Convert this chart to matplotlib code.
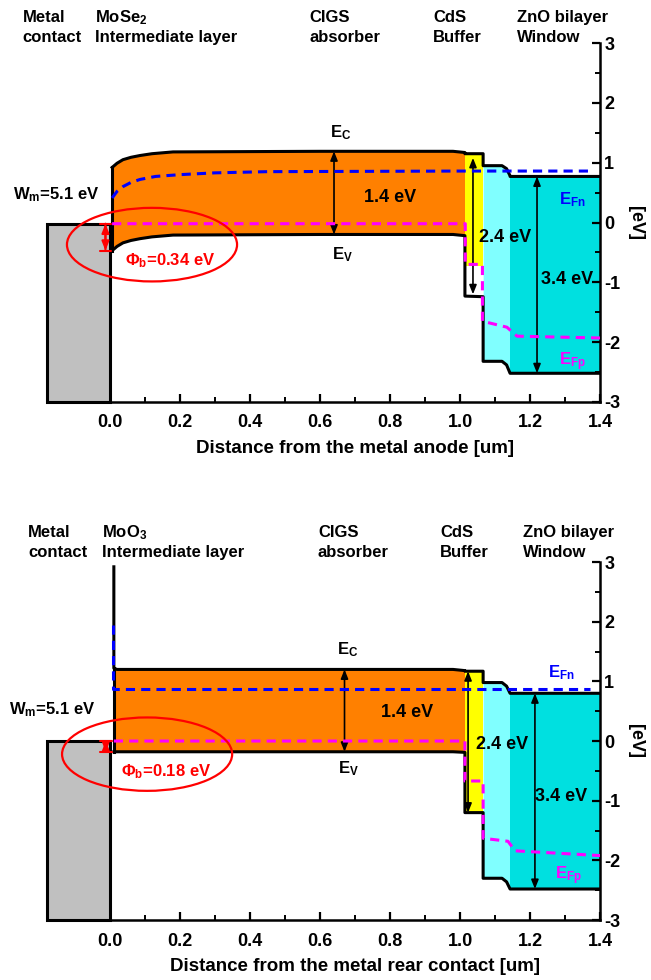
import matplotlib
matplotlib.use("Agg")
import matplotlib.pyplot as plt
from matplotlib.patches import Ellipse, Rectangle


# ---- top panel: MoSe2 intermediate layer ----
TOP_CIGS_X = [0.006, 0.02, 0.037, 0.06, 0.086, 0.12, 0.18, 0.6, 0.98, 1.014]
TOP_CIGS_EC = [0.92, 0.99, 1.05, 1.09, 1.12, 1.15, 1.18, 1.19, 1.19, 1.17]
TOP_CIGS_EV = [-0.47, -0.40, -0.34, -0.30, -0.27, -0.24, -0.21, -0.20, -0.20, -0.22]
TOP_CDS_X = [1.014, 1.066]
TOP_CDS_EC = [1.15, 1.15]
TOP_CDS_EV = [-1.23, -1.24]
TOP_ZNO1_X = [1.066, 1.12, 1.133, 1.143]
TOP_ZNO1_EC = [0.95, 0.95, 0.90, 0.78]
TOP_ZNO1_EV = [-2.32, -2.32, -2.38, -2.52]
TOP_ZNO2_X = [1.143, 1.4]
TOP_ZNO2_EC = [0.77, 0.77]
TOP_ZNO2_EV = [-2.52, -2.52]
TOP_EFN_X = [0.006, 0.02, 0.037, 0.06, 0.086, 0.13, 0.2, 0.3, 0.45, 1.0, 1.37]
TOP_EFN = [0.41, 0.52, 0.60, 0.67, 0.72, 0.77, 0.80, 0.83, 0.85, 0.86, 0.86]
TOP_EFP_X = [0.006, 1.015, 1.015, 1.064, 1.064, 1.134, 1.163, 1.4]
TOP_EFP = [-0.02, -0.02, -0.70, -0.70, -1.65, -1.75, -1.90, -1.93]
TOP_METAL_EF = -0.02

# ---- bottom panel: MoO3 intermediate layer ----
BOT_SPIKE_TOP = 2.92
BOT_CIGS_X = [0.011, 0.02, 0.05, 0.98, 1.014]
BOT_CIGS_EC = [1.22, 1.20, 1.20, 1.20, 1.18]
BOT_CIGS_EV = [-0.18, -0.18, -0.18, -0.18, -0.19]
BOT_CDS_X = [1.014, 1.066]
BOT_CDS_EC = [1.17, 1.17]
BOT_CDS_EV = [-1.20, -1.20]
BOT_ZNO1_X = [1.066, 1.12, 1.133, 1.143]
BOT_ZNO1_EC = [0.98, 0.98, 0.92, 0.80]
BOT_ZNO1_EV = [-2.30, -2.30, -2.36, -2.48]
BOT_ZNO2_X = [1.143, 1.4]
BOT_ZNO2_EC = [0.80, 0.80]
BOT_ZNO2_EV = [-2.48, -2.48]
BOT_EFN_X = [0.009, 0.009, 0.02, 1.37]
BOT_EFN = [1.95, 0.88, 0.88, 0.88]
BOT_EFP_X = [0.011, 1.014, 1.014, 1.066, 1.066, 1.137, 1.157, 1.4]
BOT_EFP = [0.0, 0.0, -0.67, -0.67, -1.63, -1.68, -1.84, -1.92]
BOT_METAL_EF = 0.0

# layer headings: (first line, second line)
TOP_HEADINGS = [("Metal", "contact"), ("MoSe$_2$", "Intermediate layer"),
                ("CIGS", "absorber"), ("CdS", "Buffer"), ("ZnO bilayer", "Window")]
BOT_HEADINGS = [("Metal", "contact"), ("MoO$_3$", "Intermediate layer"),
                ("CIGS", "absorber"), ("CdS", "Buffer"), ("ZnO bilayer", "Window")]
TOP_HEADING_X = [-0.249, -0.043, 0.571, 0.923, 1.163]
BOT_HEADING_X = [-0.234, -0.023, 0.594, 0.943, 1.18]

plt.rcParams["font.family"] = ["Liberation Sans", "DejaVu Sans"]
plt.rcParams["font.weight"] = "bold"
plt.rcParams["font.size"] = 12
plt.rcParams["axes.labelweight"] = "bold"
plt.rcParams["mathtext.fontset"] = "custom"
plt.rcParams["mathtext.rm"] = "Liberation Sans:bold"
plt.rcParams["mathtext.it"] = "Liberation Sans:bold"
plt.rcParams["mathtext.bf"] = "Liberation Sans:bold"

ORANGE = "#FF8000"
YELLOW = "#FFFF00"
LIGHT_CYAN = "#80FFFF"
CYAN = "#00E0E0"
GRAY = "#C0C0C0"


def double_arrow(ax, x, y0, y1, color="black", lw=1.2):
    ax.annotate("", xy=(x, y1), xytext=(x, y0),
                arrowprops=dict(arrowstyle="<|-|>,head_length=0.45,head_width=0.18",
                                color=color, lw=lw, shrinkA=0, shrinkB=0))


def headings(ax, xs, lines, baseline):
    for x, (first, second) in zip(xs, lines):
        ax.text(x, baseline, first, ha="left", va="baseline", clip_on=False)
        ax.text(x, baseline - 0.335, second, ha="left", va="baseline", clip_on=False)


def draw_panel(ax, layers, cds_floor, efn, efp, metal_ef, spike_top):
    cigs, cds, zno1, zno2 = layers

    ax.add_patch(Rectangle((-0.18, -3), 0.18, metal_ef + 3, facecolor=GRAY,
                           edgecolor="black", lw=2.2, clip_on=False, zorder=2))

    ax.fill_between(cigs[0], cigs[2], cigs[1], color=ORANGE, lw=0, zorder=1)
    floor = cds[2] if cds_floor is None else [cds_floor] * len(cds[0])
    ax.fill_between(cds[0], floor, cds[1], color=YELLOW, lw=0, zorder=1)
    ax.fill_between(zno1[0], zno1[2], zno1[1], color=LIGHT_CYAN, lw=0, zorder=1)
    ax.fill_between(zno2[0], zno2[2], zno2[1], color=CYAN, lw=0, zorder=1)

    ec_x, ec_y, ev_x, ev_y = [], [], [], []
    for lx, lec, lev in layers:
        ec_x += lx
        ec_y += lec
        ev_x += lx
        ev_y += lev
    start = ec_y[0] if spike_top is None else spike_top
    ax.plot([ec_x[0]] + ec_x, [start] + ec_y, color="black", lw=2.2, zorder=3,
            solid_joinstyle="round")
    ax.plot(ev_x, ev_y, color="black", lw=2.2, zorder=3, solid_joinstyle="round")
    ax.plot([ev_x[0], ev_x[0]], [ev_y[0], ec_y[0]], color="black", lw=2.2, zorder=3)

    ax.plot(efn[0], efn[1], color="#0000FF", lw=2.2, ls=(0, (3, 2)), zorder=4)
    ax.plot(efp[0], efp[1], color="#FF00FF", lw=2.2, ls=(0, (3, 2)), zorder=4)

    ax.set_xlim(-0.18, 1.4)
    ax.set_ylim(-3, 3)
    ax.spines["left"].set_visible(False)
    ax.spines["top"].set_visible(False)
    for side in ("bottom", "right"):
        ax.spines[side].set_linewidth(1.8)
    ax.yaxis.tick_right()
    ax.set_xticks([0.0, 0.2, 0.4, 0.6, 0.8, 1.0, 1.2, 1.4])
    ax.set_xticks([0.1, 0.3, 0.5, 0.7, 0.9, 1.1, 1.3], minor=True)
    ax.set_yticks([-3, -2, -1, 0, 1, 2, 3])
    ax.set_yticks([-2.5, -1.5, -0.5, 0.5, 1.5, 2.5], minor=True)
    ax.set_yticklabels(["-3", "-2", "-1", "0", "1", "2", "3"])
    ax.tick_params(which="major", direction="in", length=6, width=1.6, labelsize=13)
    ax.tick_params(axis="x", which="major", pad=9)
    ax.tick_params(axis="y", which="major", pad=3)
    ax.tick_params(which="minor", direction="in", length=3.5, width=1.4)
    ax.text(1.065, 0.5, "[eV]", rotation=270, fontsize=13, ha="center", va="center",
            transform=ax.transAxes)


fig = plt.figure(figsize=(6.51, 9.80), dpi=100)
ax_top = fig.add_axes([0.0722, 0.5898, 0.8495, 0.3663])
ax_bot = fig.add_axes([0.0722, 0.0612, 0.8495, 0.3653])

draw_panel(ax_top,
           [(TOP_CIGS_X, TOP_CIGS_EC, TOP_CIGS_EV), (TOP_CDS_X, TOP_CDS_EC, TOP_CDS_EV),
            (TOP_ZNO1_X, TOP_ZNO1_EC, TOP_ZNO1_EV), (TOP_ZNO2_X, TOP_ZNO2_EC, TOP_ZNO2_EV)],
           -0.72, (TOP_EFN_X, TOP_EFN), (TOP_EFP_X, TOP_EFP), TOP_METAL_EF, None)
draw_panel(ax_bot,
           [(BOT_CIGS_X, BOT_CIGS_EC, BOT_CIGS_EV), (BOT_CDS_X, BOT_CDS_EC, BOT_CDS_EV),
            (BOT_ZNO1_X, BOT_ZNO1_EC, BOT_ZNO1_EV), (BOT_ZNO2_X, BOT_ZNO2_EC, BOT_ZNO2_EV)],
           None, (BOT_EFN_X, BOT_EFN), (BOT_EFP_X, BOT_EFP), BOT_METAL_EF, BOT_SPIKE_TOP)

ax_top.set_xlabel("Distance from the metal anode [um]", fontsize=13.5, labelpad=6, x=0.557)
ax_bot.set_xlabel("Distance from the metal rear contact [um]", fontsize=13.5, labelpad=6,
                  x=0.557)

# ---- top panel annotations ----
headings(ax_top, TOP_HEADING_X, TOP_HEADINGS, 3.35)
double_arrow(ax_top, 0.64, TOP_CIGS_EC[7], TOP_CIGS_EV[7])
double_arrow(ax_top, 1.037, TOP_CDS_EC[0] - 0.07, TOP_CDS_EV[0] + 0.03)
double_arrow(ax_top, 1.22, TOP_ZNO2_EC[0], TOP_ZNO2_EV[0])
ax_top.text(0.66, 1.5, "E$_C$", ha="center", va="center")
ax_top.text(0.665, -0.53, "E$_V$", ha="center", va="center")
ax_top.text(0.8, 0.41, "1.4 eV", fontsize=13, ha="center", va="center")
ax_top.text(1.13, -0.25, "2.4 eV", fontsize=13, ha="center", va="center", zorder=5)
ax_top.text(1.305, -0.95, "3.4 eV", fontsize=13, ha="center", va="center", zorder=5)
ax_top.text(1.32, 0.38, "E$_{Fn}$", color="#0000FF", ha="center", va="center")
ax_top.text(1.32, -2.32, "E$_{Fp}$", color="#FF00FF", ha="center", va="center")
ax_top.text(-0.277, 0.47, "W$_m$=5.1 eV", ha="left", va="center", clip_on=False)
ax_top.add_patch(Ellipse((0.12, -0.37), 0.486, 1.23, fill=False, edgecolor="red",
                         lw=1.6, zorder=6, clip_on=False))
double_arrow(ax_top, -0.013, TOP_METAL_EF, TOP_CIGS_EV[0], color="red", lw=1.5)
ax_top.annotate("", xy=(-0.013, TOP_CIGS_EV[0]), xytext=(-0.013, TOP_METAL_EF),
                arrowprops=dict(arrowstyle="|-|,widthA=0.35,widthB=0.35", color="red",
                                lw=1.5, shrinkA=0, shrinkB=0))
ax_top.text(0.173, -0.64, "Φ$_b$=0.34 eV", color="red", ha="center", va="center")

# ---- bottom panel annotations ----
headings(ax_bot, BOT_HEADING_X, BOT_HEADINGS, 3.42)
double_arrow(ax_bot, 0.67, BOT_CIGS_EC[3], BOT_CIGS_EV[3])
double_arrow(ax_bot, 1.023, BOT_CDS_EC[0], BOT_CDS_EV[0])
double_arrow(ax_bot, 1.214, BOT_ZNO2_EC[0], BOT_ZNO2_EV[0])
ax_bot.text(0.68, 1.53, "E$_C$", ha="center", va="center")
ax_bot.text(0.68, -0.47, "E$_V$", ha="center", va="center")
ax_bot.text(0.85, 0.48, "1.4 eV", fontsize=13, ha="center", va="center")
ax_bot.text(1.12, -0.05, "2.4 eV", fontsize=13, ha="center", va="center", zorder=5)
ax_bot.text(1.29, -0.93, "3.4 eV", fontsize=13, ha="center", va="center", zorder=5)
ax_bot.text(1.29, 1.15, "E$_{Fn}$", color="#0000FF", ha="center", va="center")
ax_bot.text(1.31, -2.25, "E$_{Fp}$", color="#FF00FF", ha="center", va="center")
ax_bot.text(-0.29, 0.53, "W$_m$=5.1 eV", ha="left", va="center", clip_on=False)
ax_bot.add_patch(Ellipse((0.106, -0.22), 0.486, 1.23, fill=False, edgecolor="red",
                         lw=1.6, zorder=6, clip_on=False))
double_arrow(ax_bot, -0.012, BOT_METAL_EF, BOT_CIGS_EV[0], color="red", lw=1.5)
ax_bot.annotate("", xy=(-0.012, BOT_CIGS_EV[0]), xytext=(-0.012, BOT_METAL_EF),
                arrowprops=dict(arrowstyle="|-|,widthA=0.35,widthB=0.35", color="red",
                                lw=1.5, shrinkA=0, shrinkB=0))
ax_bot.text(0.16, -0.52, "Φ$_b$=0.18 eV", color="red", ha="center", va="center")

fig.savefig("out.png", dpi=100)
